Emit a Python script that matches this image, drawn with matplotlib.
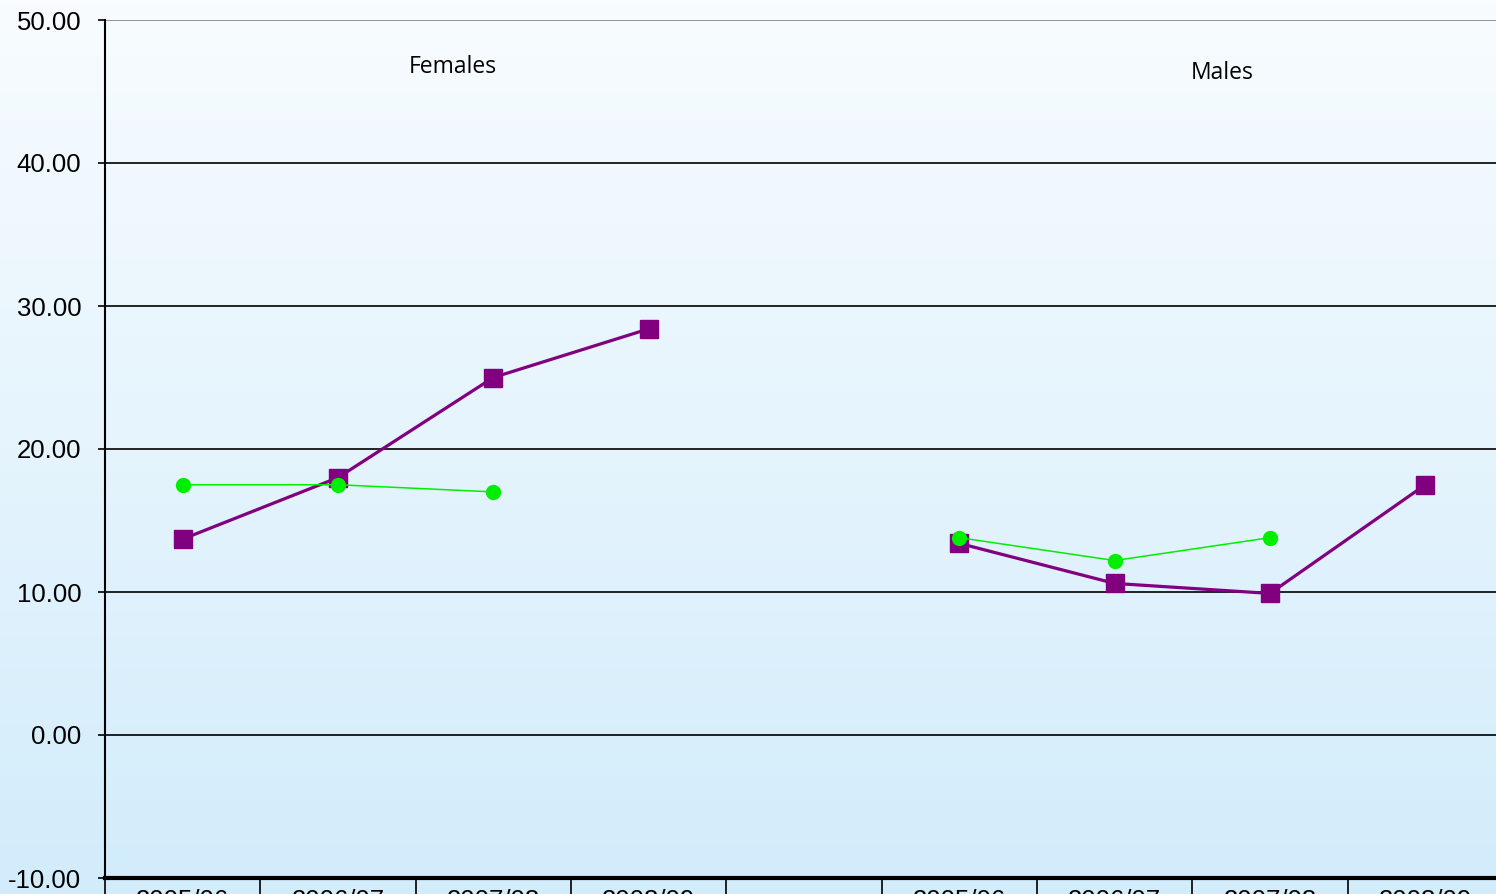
import numpy as np
import matplotlib.pyplot as plt
from matplotlib.colors import LinearSegmentedColormap

# category slots: Females block, blank gap, Males block
categories = ["2005/06", "2006/07", "2007/08", "2008/09", "",
              "2005/06", "2006/07", "2007/08", "2008/09"]

purple_values = [13.7, 18.0, 25.0, 28.4, np.nan, 13.4, 10.6, 9.9, 17.5]
green_values = [17.5, 17.5, 17.0, np.nan, np.nan, 13.8, 12.2, 13.8, np.nan]

y_ticks = [-10, 0, 10, 20, 30, 40, 50]

fig = plt.figure(figsize=(14.96, 8.94), dpi=100)

# background gradient over whole figure
bg = fig.add_axes([0, 0, 1, 1], zorder=-10)
grad = np.linspace(0, 1, 256).reshape(-1, 1)
cmap = LinearSegmentedColormap.from_list("bg", ["#f8fcff", "#d2ecfb"])
bg.imshow(grad, aspect="auto", cmap=cmap, extent=[0, 1, 0, 1])
bg.axis("off")

ax = fig.add_axes([105 / 1496, 16 / 894, 1398 / 1496, 858 / 894])
ax.patch.set_alpha(0)

x = np.arange(len(categories)) + 0.5
ax.plot(x, purple_values, color="#800080", lw=2.3, marker="s",
        markersize=13, zorder=3)
ax.plot(x, green_values, color="#00ee00", lw=1.1, marker="o",
        markersize=10, zorder=4)

ax.set_xlim(0, len(categories))
ax.set_ylim(-10, 50)

for y in y_ticks[1:]:
    ax.axhline(y, color="#808080" if y == 50 else "black", lw=1.2, zorder=1)

ax.set_yticks(y_ticks)
ax.set_yticklabels([f"{v:.2f}" for v in y_ticks], family="Liberation Sans")
ax.tick_params(axis="y", length=5, width=1.2, labelsize=18.5, pad=12)

ax.set_xticks(np.arange(len(categories) + 1))
ax.set_xticklabels([])
ax.set_xticks(x, minor=True)
ax.set_xticklabels(categories, minor=True, family="Liberation Sans")
ax.tick_params(axis="x", which="major", length=22, width=1.2)
ax.tick_params(axis="x", which="minor", length=0, labelsize=18.5, pad=8)

for side in ["top", "right"]:
    ax.spines[side].set_visible(False)
ax.spines["left"].set_linewidth(1.5)
ax.spines["bottom"].set_linewidth(3)

ax.text(2.24, 46.7, "Females", fontsize=16.5, family="Open Sans",
        ha="center", va="center")
ax.text(7.19, 46.3, "Males", fontsize=16.5, family="Open Sans",
        ha="center", va="center")

fig.savefig("out.png", dpi=100)
